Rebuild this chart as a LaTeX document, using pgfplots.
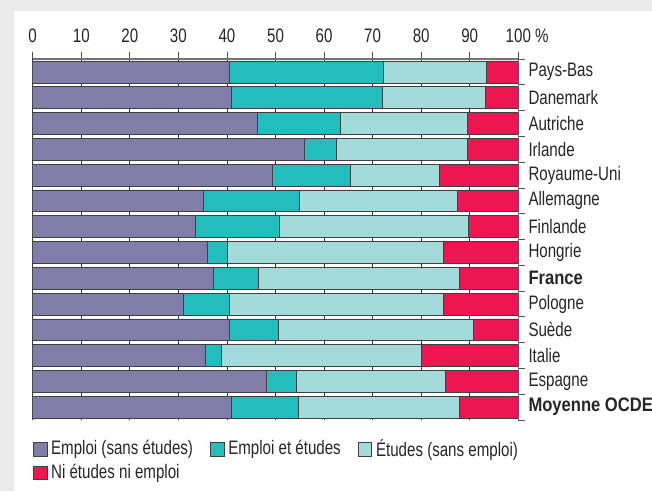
\documentclass[border=0pt]{standalone}
\usepackage{fontspec}
\setmainfont{Liberation Sans}[FakeStretch=0.775, BoldFeatures={FakeStretch=0.85}]
\usepackage{pgfplots}
\pgfplotsset{compat=1.18}
\definecolor{bgc}{HTML}{EBEBEB}
\definecolor{cemp}{HTML}{807EA8}
\definecolor{cee}{HTML}{22BDBC}
\definecolor{cet}{HTML}{A3DADA}
\definecolor{cni}{HTML}{EE1651}
\definecolor{txt}{HTML}{262626}
\pgfplotsset{sq legend/.style={legend image code/.code={\draw[##1,line width=0.6pt] (0pt,-6.8pt) rectangle (13.6pt,6.8pt);}}}
\begin{document}
\fontsize{19.5pt}{23pt}\selectfont
\begin{tikzpicture}[x=1pt,y=1pt]
\fill[bgc] (0,0) rectangle (652,-491);
\fill[white] (14,-11) rectangle (652,-491);
\begin{axis}[
  at={(32.7pt,-59pt)}, anchor=north west,
  scale only axis, width=485.6pt, height=361pt,
  xmin=0, xmax=100, ymin=-0.5, ymax=13.5,
  xbar stacked, bar width=0.85,
  axis x line*=top, axis y line*=right,
  axis line style={draw=black!55, line width=1.2pt},
  xtick={0,10,...,100},
  xticklabels={0,10,20,30,40,50,60,70,80,90,100\rlap{ \%}},
  xticklabel style={text=txt, yshift=3pt},
  tick align=outside, major tick length=7pt, minor tick length=7pt,
  tick style={draw=black!70, line width=0.8pt},
  xmajorgrids, grid style={draw=black!80, line width=0.8pt},
  ytick={0,...,13},
  yticklabels={\textbf{Moyenne OCDE},Espagne,Italie,Suède,Pologne,\textbf{France},Hongrie,Finlande,Allemagne,Royaume-Uni,Irlande,Autriche,Danemark,Pays-Bas},
  major y tick style={draw=none},
  minor ytick={-0.5,0.5,...,13.5},
  yticklabel style={text=txt, anchor=west, inner sep=0pt, xshift=3pt},
  every axis plot/.append style={draw=black!75, line width=0.6pt},
  legend columns=3, legend cell align=left,
  legend style={at={(axis description cs:0,-0.053)}, anchor=north west, draw=none, fill=none, inner sep=0pt, row sep=5pt, text=txt,
    nodes={inner sep=0pt},
    /tikz/every odd column/.append style={column sep=4pt},
    /tikz/every even column/.append style={column sep=17pt}},
]
\addplot[fill=cemp, sq legend] coordinates {(40.8,0) (48.2,1) (35.5,2) (40.4,3) (31.1,4) (37.2,5) (36.0,6) (33.5,7) (35.1,8) (49.4,9) (55.9,10) (46.2,11) (40.8,12) (40.5,13)};
\addlegendentry{Emploi (sans études)}
\addplot[fill=cee, sq legend] coordinates {(13.9,0) (6.1,1) (3.3,2) (10.2,3) (9.3,4) (9.3,5) (4.0,6) (17.2,7) (19.7,8) (16.0,9) (6.6,10) (17.1,11) (31.1,12) (31.8,13)};
\addlegendentry{Emploi et études}
\addplot[fill=cet, sq legend] coordinates {(33.1,0) (30.7,1) (41.2,2) (40.1,3) (44.2,4) (41.3,5) (44.6,6) (39.1,7) (32.6,8) (18.3,9) (26.9,10) (26.1,11) (21.2,12) (21.2,13)};
\addlegendentry{Études (sans emploi)}
\addplot[fill=cni, sq legend] coordinates {(12.2,0) (15.0,1) (20.0,2) (9.3,3) (15.4,4) (12.2,5) (15.4,6) (10.2,7) (12.6,8) (16.3,9) (10.6,10) (10.6,11) (6.9,12) (6.5,13)};
\addlegendentry{Ni études ni emploi}
\end{axis}
\pgfresetboundingbox
\path[use as bounding box] (0,0) rectangle (652,-491);
\end{tikzpicture}
\end{document}
